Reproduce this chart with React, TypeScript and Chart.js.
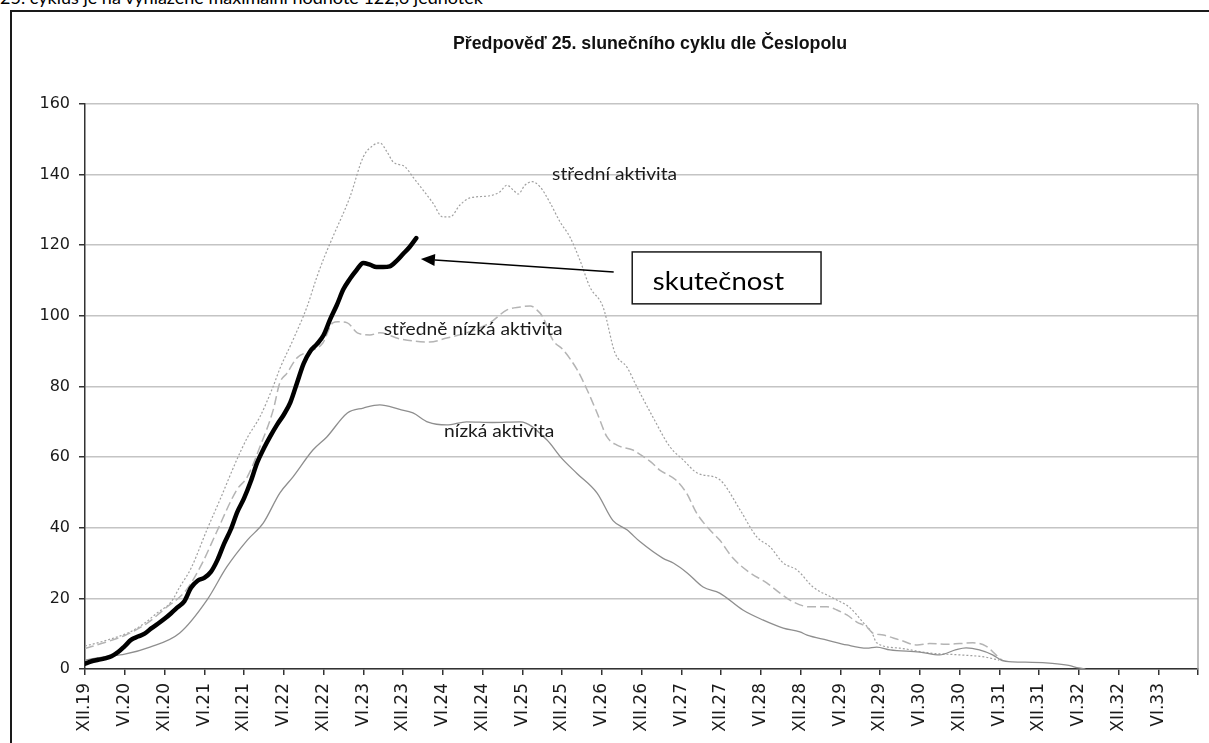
import React, { useEffect, useRef } from 'react';
import { Chart, registerables } from 'chart.js';

Chart.register(...registerables);

const headline = '25. cyklus je na vyhlazené maximální hodnotě 122,6 jednotek';
const chartTitle = 'Předpověď 25. slunečního cyklu dle Česlopolu';

// x axis: months counted from XII.2019, one tick every 6 months
const xTickLabels = [
  'XII.19', 'VI.20', 'XII.20', 'VI.21', 'XII.21', 'VI.22', 'XII.22', 'VI.23', 'XII.23', 'VI.24',
  'XII.24', 'VI.25', 'XII.25', 'VI.26', 'XII.26', 'VI.27', 'XII.27', 'VI.28', 'XII.28', 'VI.29',
  'XII.29', 'VI.30', 'XII.30', 'VI.31', 'XII.31', 'VI.32', 'XII.32', 'VI.33',
];
const xMax = 168;
const xStep = 6;
const yMin = 0;
const yMax = 160;
const yStep = 20;

// skutečnost (actual), monthly from XII.19
const actualValues = [
  1.5, 2.2, 2.6, 3.0, 3.6, 4.8, 6.5, 8.3, 9.2, 10.0,
  11.5, 12.8, 14.2, 15.8, 17.5, 19.2, 23.0, 25.0, 25.8, 27.5,
  30.9, 35.5, 39.5, 44.5, 48.3, 53.0, 58.5, 62.5, 66.0, 69.2,
  72.0, 75.5, 81.0, 86.5, 90.0, 92.0, 94.5, 99.0, 103.0, 107.5,
  110.5, 113.0, 115.0, 114.5, 113.8, 113.8, 114.0, 115.5, 117.5, 119.5,
  122.0,
];

// střední aktivita (dotted)
const stredniMonths = [
  0, 3, 6.8, 9, 10.9, 13, 14.3, 16, 18.4, 20.5, 22.9, 24.5, 26.4, 28.4, 29.4, 31.4, 33.5, 35,
  36.2, 37.4, 40, 42, 43.5, 44.5, 45.6, 46.5, 48.3, 49.5, 51, 52.5, 54, 55.1, 56.6, 58.1,
  61.1, 62.6, 63.7, 64.6, 65.4, 66.4, 67.5, 68.7, 70.2, 71.7, 73.2, 74.7, 76.2, 78.2, 80,
  81.8, 83.3, 85.7, 88.3, 90.3, 92.4, 95.4, 96.3, 98.9, 101.4, 103.4, 105.4, 107.5, 109.9,
  112.9, 115.5, 117.4, 118.8, 119.5, 123, 127.5, 132, 135.8, 138,
];
const stredniValues = [
  6.5, 8.0, 10.5, 13.0, 15.9, 19.0, 23.2, 28.5, 39.4, 48.5, 59.2, 65.5, 71.4, 80.0, 85.0, 93.2, 102.5, 111,
  117, 122.3, 133.7, 145, 148.3, 149, 146.4, 143.6, 142.2, 139.3, 135.7, 132, 128, 128, 131.4, 133.4,
  134, 135.1, 137, 135.7, 134.5, 137, 138, 136.5, 132, 126.6, 122.3, 115.8, 108.2, 102.5, 89.5,
  85.5, 79.9, 71.4, 62.9, 59.2, 55.5, 54.1, 52.7, 45, 37.4, 34.6, 30, 28, 23.2,
  20.1, 17.3, 13.3, 10.2, 7.4, 5.9, 4.5, 4.0, 3.4, 2.5,
];

// středně nízká aktivita (dashed)
const stredneNizkaMonths = [
  0, 3, 6, 9.4, 12, 15.3, 17.7, 19.8, 22.9, 24.5, 26.4, 28.4, 29.4, 30.5, 32, 34.4, 35.9, 37.4,
  38.2, 39.6, 41.1, 43, 44.5, 47.5, 52, 54.6, 57.6, 61.1, 63.7, 65.7, 67.2, 68.2, 69.1, 70.6,
  72.2, 74.3, 75.8, 77.3, 78.8, 80.3, 82.7, 84, 85.5, 86.7, 89.2, 90.8, 92.3, 94.3, 95.8,
  97.8, 100.4, 102.9, 104.9, 106.9, 109.4, 112, 113.5, 115, 116.5, 118, 118.9, 120.5, 123,
  125.6, 127.5, 130, 132, 134, 136, 137.5, 138.5,
];
const stredneNizkaValues = [
  5.8, 7.5, 9.5, 13, 17, 22.4, 30, 38.5, 50.7, 54.4, 62.9, 73.3, 81, 83.8, 88.1, 90.3, 92.3, 98,
  98.3, 98, 95.2, 94.6, 95.2, 93.5, 92.6, 93.7, 95.2, 98, 101.7, 102.5, 102.8, 101.7, 99.7, 93.2,
  90.3, 84.7, 79, 72.5, 65.7, 63.4, 62, 60.5, 58.5, 56.4, 53.5, 49.8, 44.2, 39.4, 36.5,
  31.4, 27.2, 24.4, 21.5, 19, 17.6, 17.6, 16.7, 15.3, 13.3, 11.9, 10.2, 9.6, 8.2,
  6.8, 7.2, 7.0, 7.2, 7.4, 6.5, 4, 2.3,
];

// nízká aktivita (solid grey)
const nizkaMonths = [
  0, 3, 6, 9.8, 14.3, 18.4, 21.4, 24.5, 26.9, 29.4, 31.4, 34.4, 36.5, 39.6, 42, 44.5, 47.5,
  49.5, 51.8, 54.6, 57.6, 61.5, 65.7, 69.7, 71.9, 74.3, 77.3, 79.7, 81.8, 83.8, 87.2, 88.8,
  90.9, 93.3, 95.8, 99.3, 102.3, 105.4, 107.9, 109, 112, 115, 118, 119.5, 121.5, 126, 129,
  131.5, 133, 135, 137, 138.3, 140, 143, 146, 148.5, 150, 151,
];
const nizkaValues = [
  2.5, 3.5, 4.2, 6.2, 10.2, 19.5, 28.9, 36.5, 41.3, 49.8, 54.4, 62, 65.7, 72.5, 73.9, 74.8, 73.5,
  72.5, 69.9, 69.1, 70, 69.8, 70, 64.9, 59.8, 55.3, 49.8, 42, 39.4, 36, 31.4, 30,
  27.2, 23.2, 21.5, 16.7, 13.9, 11.6, 10.5, 9.6, 8.2, 6.8, 5.9, 6.2, 5.4, 4.8, 4.0,
  5.5, 6.0, 5.4, 4, 2.5, 2.0, 1.9, 1.6, 1.0, 0.3, 0,
];

// text annotations anchored in data units (month, value)
const seriesLabels = [
  { text: 'střední aktivita', m: 70.5, v: 139.9 },
  { text: 'středně nízká aktivita', m: 45.1, v: 96.0 },
  { text: 'nízká aktivita', m: 54.2, v: 67.2 },
];
const calloutText = 'skutečnost';
const calloutBox = { m0: 82.6, v0: 118.1, m1: 111.1, v1: 103.4, textM: 85.7, textV: 109.6 };
const calloutArrow = { fromM: 79.8, fromV: 112.4, toM: 50.7, toV: 116.1 };

const toPoints = (ms: number[], vs: number[]) => ms.map((m, i) => ({ x: m, y: vs[i] }));

const annotationPlugin = {
  id: 'cyclesAnnotations',
  afterDatasetsDraw(chart: any) {
    const { ctx, chartArea } = chart;
    const xs = chart.scales.x;
    const ys = chart.scales.y;
    ctx.save();
    // plot-area right border
    ctx.strokeStyle = '#a8a8a8';
    ctx.lineWidth = 1.5;
    ctx.beginPath();
    ctx.moveTo(chartArea.right, chartArea.top);
    ctx.lineTo(chartArea.right, chartArea.bottom);
    ctx.stroke();

    ctx.fillStyle = '#1a1a1a';
    ctx.textBaseline = 'middle';
    ctx.textAlign = 'left';
    ctx.font = '17px Lato';
    for (const l of seriesLabels) {
      ctx.save();
      ctx.translate(xs.getPixelForValue(l.m), ys.getPixelForValue(l.v));
      ctx.scale(1.13, 1);
      ctx.fillText(l.text, 0, 0);
      ctx.restore();
    }

    // callout box
    const bx0 = xs.getPixelForValue(calloutBox.m0);
    const by0 = ys.getPixelForValue(calloutBox.v0);
    const bx1 = xs.getPixelForValue(calloutBox.m1);
    const by1 = ys.getPixelForValue(calloutBox.v1);
    ctx.fillStyle = '#ffffff';
    ctx.fillRect(bx0, by0, bx1 - bx0, by1 - by0);
    ctx.strokeStyle = '#1a1a1a';
    ctx.lineWidth = 1.5;
    ctx.strokeRect(bx0, by0, bx1 - bx0, by1 - by0);
    ctx.fillStyle = '#000000';
    ctx.font = '25px Lato';
    ctx.save();
    ctx.translate(xs.getPixelForValue(calloutBox.textM), ys.getPixelForValue(calloutBox.textV));
    ctx.scale(1.1, 1);
    ctx.fillText(calloutText, 0, 0);
    ctx.restore();

    // arrow
    const ax0 = xs.getPixelForValue(calloutArrow.fromM);
    const ay0 = ys.getPixelForValue(calloutArrow.fromV);
    const ax1 = xs.getPixelForValue(calloutArrow.toM);
    const ay1 = ys.getPixelForValue(calloutArrow.toV);
    const ang = Math.atan2(ay1 - ay0, ax1 - ax0);
    const headLen = 14;
    const headHalf = 6;
    const baseX = ax1 - headLen * Math.cos(ang);
    const baseY = ay1 - headLen * Math.sin(ang);
    ctx.strokeStyle = '#000000';
    ctx.lineWidth = 1.6;
    ctx.beginPath();
    ctx.moveTo(ax0, ay0);
    ctx.lineTo(baseX, baseY);
    ctx.stroke();
    ctx.fillStyle = '#000000';
    ctx.beginPath();
    ctx.moveTo(ax1, ay1);
    ctx.lineTo(baseX + headHalf * Math.sin(ang), baseY - headHalf * Math.cos(ang));
    ctx.lineTo(baseX - headHalf * Math.sin(ang), baseY + headHalf * Math.cos(ang));
    ctx.closePath();
    ctx.fill();
    ctx.restore();
  },
};

export default function App() {
  const ref = useRef<HTMLCanvasElement>(null);

  useEffect(() => {
    if (!ref.current) return;
    const chart = new Chart(ref.current, {
      type: 'line',
      data: {
        datasets: [
          {
            label: 'skutečnost',
            data: actualValues.map((v, i) => ({ x: i, y: v })),
            borderColor: '#000000',
            borderWidth: 4.5,
            borderCapStyle: 'round',
            borderJoinStyle: 'round',
            pointRadius: 0,
            cubicInterpolationMode: 'monotone',
          },
          {
            label: 'nízká aktivita',
            data: toPoints(nizkaMonths, nizkaValues),
            borderColor: '#8e8e8e',
            borderWidth: 1.3,
            pointRadius: 0,
            cubicInterpolationMode: 'monotone',
          },
          {
            label: 'středně nízká aktivita',
            data: toPoints(stredneNizkaMonths, stredneNizkaValues),
            borderColor: '#b4b4b4',
            borderWidth: 1.5,
            borderDash: [9, 4],
            pointRadius: 0,
            cubicInterpolationMode: 'monotone',
          },
          {
            label: 'střední aktivita',
            data: toPoints(stredniMonths, stredniValues),
            borderColor: '#a0a0a0',
            borderWidth: 1.2,
            borderDash: [2, 2],
            pointRadius: 0,
            cubicInterpolationMode: 'monotone',
          },
        ],
      },
      options: {
        responsive: false,
        devicePixelRatio: 1,
        animation: false,
        layout: { padding: 0 },
        plugins: {
          legend: { display: false },
          tooltip: { enabled: false },
          title: {
            display: true,
            text: chartTitle,
            color: '#111111',
            font: { family: 'Liberation Sans', size: 17.8, weight: 'bold' },
            padding: { top: 21.5, bottom: 49.1 },
          },
        },
        scales: {
          x: {
            type: 'linear',
            min: 0,
            max: xMax,
            afterFit: (s: any) => {
              s.height = 103;
              s.paddingLeft = 0;
              s.paddingRight = 0;
            },
            ticks: {
              stepSize: xStep,
              maxTicksLimit: 100,
              autoSkip: false,
              minRotation: 90,
              maxRotation: 90,
              padding: 8,
              color: '#1a1a1a',
              font: { family: 'DejaVu Sans', size: 17 },
              callback: (value: any) => {
                const i = Math.round(Number(value) / xStep);
                return i < xTickLabels.length ? xTickLabels[i] : '';
              },
            },
            grid: {
              display: true,
              drawOnChartArea: false,
              drawTicks: true,
              tickLength: 6,
              tickColor: '#333333',
              lineWidth: 1.5,
            },
            border: { display: true, color: '#333333', width: 1.5 },
          },
          y: {
            min: yMin,
            max: yMax,
            afterFit: (s: any) => {
              s.width = 73;
              s.paddingTop = 0;
              s.paddingBottom = 0;
            },
            ticks: {
              stepSize: yStep,
              padding: 9,
              color: '#1a1a1a',
              font: { family: 'DejaVu Sans', size: 16 },
            },
            grid: {
              color: '#c4c4c4',
              lineWidth: 1.5,
              tickLength: 6,
              tickColor: '#333333',
            },
            border: { display: true, color: '#333333', width: 1.5 },
          },
          yRightSpacer: {
            position: 'right',
            min: yMin,
            max: yMax,
            display: true,
            afterFit: (s: any) => {
              s.width = 90;
              s.paddingTop = 0;
              s.paddingBottom = 0;
            },
            ticks: { display: false },
            grid: { display: false, drawOnChartArea: false, drawTicks: false },
            border: { display: false },
          },
        },
      },
      plugins: [annotationPlugin],
    } as any);
    return () => chart.destroy();
  }, []);

  return (
    <div
      style={{
        position: 'fixed',
        left: 0,
        top: 0,
        width: 1209,
        height: 743,
        overflow: 'hidden',
        background: '#ffffff',
      }}
    >
      <div
        style={{
          position: 'absolute',
          left: 0,
          top: -12,
          fontFamily: 'Lato',
          fontSize: '18px',
          lineHeight: '18px',
          whiteSpace: 'nowrap',
          color: '#000000',
        }}
      >
        {headline}
      </div>
      <div
        style={{
          position: 'absolute',
          left: 10,
          top: 10,
          width: 1300,
          height: 800,
          border: '2px solid #1a1a1a',
          boxSizing: 'border-box',
        }}
      >
        <canvas ref={ref} width={1276} height={760} style={{ position: 'absolute', left: 0, top: 0 }} />
      </div>
    </div>
  );
}
